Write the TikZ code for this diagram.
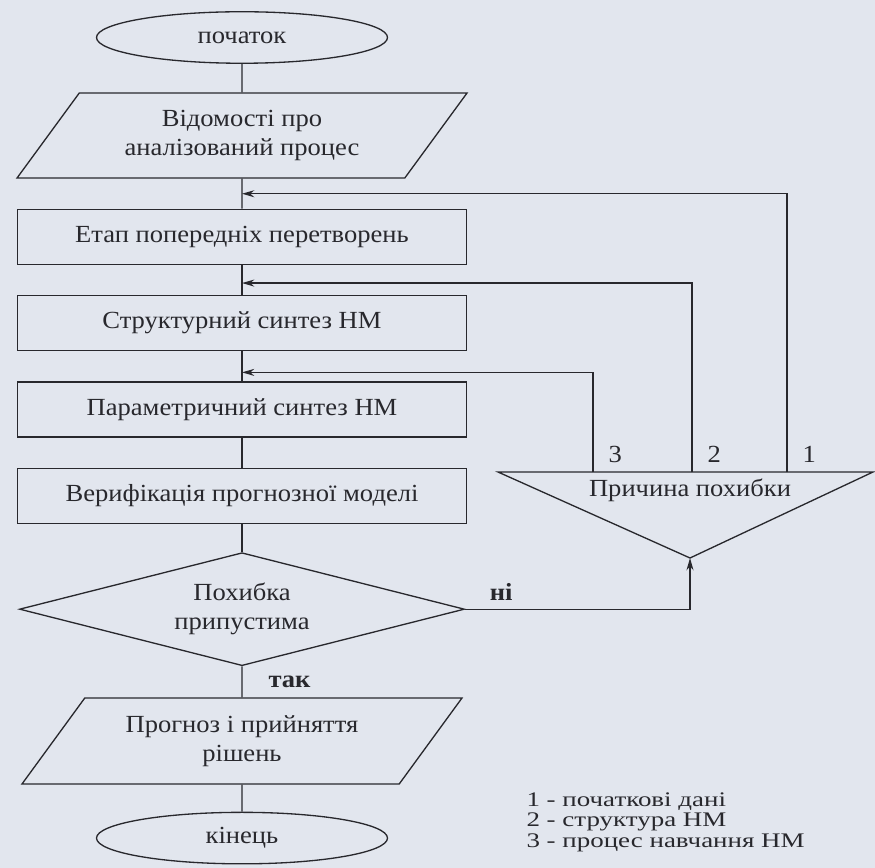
\documentclass[tikz,border=0pt]{standalone}
\usepackage{fontspec}
\setmainfont{Liberation Serif}[FakeStretch=1.08]
\newfontfamily\legendfont{Liberation Serif}[FakeStretch=1.3]
\usetikzlibrary{arrows.meta,calc,positioning,shapes.geometric}
\definecolor{paper}{RGB}{226,230,238}
\definecolor{ink}{RGB}{40,40,45}

\begin{document}
\begin{tikzpicture}[node distance=0.6cm, line width=0.75pt, color=ink,
    >={Stealth[length=7pt,width=4pt]},
    every node/.style={font=\fontsize{14}{16.5}\selectfont, align=center},
    term/.style={ellipse, draw, minimum width=5.82cm, minimum height=1.03cm},
    io/.style={trapezium, trapezium left angle=45, trapezium right angle=135,
      trapezium stretches body, draw, minimum height=1.7cm},
    proc/.style={rectangle, draw, minimum width=8.98cm, minimum height=1.1cm},
    test/.style={diamond, draw, aspect=4, inner sep=0pt, minimum width=8.9cm, minimum height=2.26cm},
    lbl/.style={font=\fontsize{14}{16}\selectfont\bfseries}]
  \fill[paper] (0,0) rectangle (17.5,-17.36);
  \useasboundingbox (0,0) rectangle (17.5,-17.36);

  \node[term] (start) at (4.84,-0.75)  {початок};
  \node[io, minimum width=9cm] (info) [below=0.57cm of start] {Відомості про\\аналізований процес};
  \node[proc] (prep)   [below=0.6cm of info] {Етап попередніх перетворень};
  \node[proc] (struct) [below=of prep]   {Структурний синтез НМ};
  \node[proc] (param)  [below=of struct] {Параметричний синтез НМ};
  \node[proc] (verif)  [below=of param]  {Верифікація прогнозної моделі};
  \node[test] (ok)     [below=0.56cm of verif] {Похибка\\припустима};
  \node[io, minimum width=8.8cm, minimum height=1.72cm] (out) [below=0.62cm of ok] {Прогноз і прийняття\\рішень};
  \node[term] (stop)   [below=0.54cm of out] {кінець};

  \coordinate (tl) at (9.96,-9.44);
  \coordinate (tr) at (17.46,-9.44);
  \coordinate (tb) at (13.8,-11.16);
  \draw (tl) -- (tr) -- (tb) -- cycle;
  \node (cause) at (13.8,-9.8) {Причина похибки};
  \coordinate (out3) at (11.86,-9.44);
  \coordinate (out2) at (13.84,-9.44);
  \coordinate (out1) at (15.74,-9.44);
  \node (n3) [above right=0.05cm and 0.18cm of out3] {3};
  \node (n2) [above right=0.05cm and 0.18cm of out2] {2};
  \node (n1) [above right=0.05cm and 0.18cm of out1] {1};

  \coordinate (j1) at ($(info.south)!0.5!(prep.north)$);
  \coordinate (j2) at ($(prep.south)!0.6!(struct.north)$);
  \coordinate (j3) at ($(struct.south)!0.7!(param.north)$);

  \draw (start) -- (info);
  \draw (info) -- (prep);
  \draw (prep) -- (struct);
  \draw (struct) -- (param);
  \draw (param) -- (verif);
  \draw (verif) -- (ok);
  \draw (ok) -- node[lbl, right=0.4cm] {так} (out);
  \draw (out) -- (stop);

  \draw[->] (out1) |- (j1);
  \draw[->] (out2) |- (j2);
  \draw[->] (out3) |- (j3);
  \draw[->] (ok.east) -| node[lbl, pos=0.08, above=0.05cm] {ні} (tb);

  \node[anchor=north west, align=left, font=\legendfont\fontsize{11.8}{11.6}\selectfont] (legend) at (10.4,-15.72)
    {1 - початкові дані\\2 - структура НМ\\3 - процес навчання НМ};
\end{tikzpicture}
\end{document}
